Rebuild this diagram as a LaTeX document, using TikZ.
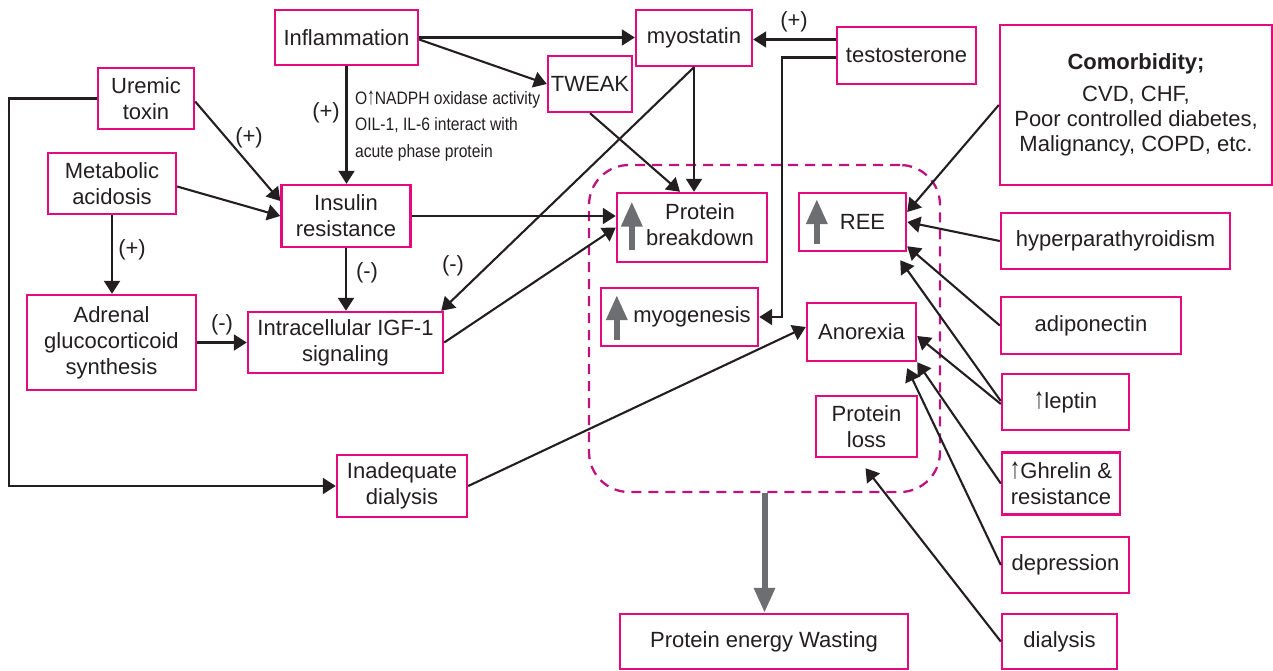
\documentclass[tikz,border=0pt]{standalone}
\usepackage{fontspec}
\setmainfont{Liberation Sans}
\usetikzlibrary{arrows.meta,calc}
\definecolor{pinkb}{HTML}{E5097F}
\definecolor{dashc}{HTML}{BE127E}
\definecolor{ink}{HTML}{231F20}
\definecolor{grayar}{HTML}{6D6E71}
\newcommand\mainfs{\fontsize{22}{26}\selectfont}
\newcommand\uparr{\scalebox{0.95}[1.35]{↑}}
\tikzset{
  box/.style={draw=pinkb, line width=2.4pt, fill=white, inner sep=0pt, align=center, text=ink, font=\mainfs},
  conn/.style={draw=ink, line width=2.1pt, -{Triangle[length=13pt,width=16pt]}},
  lbl/.style={text=ink, font=\mainfs, inner sep=0pt},
  uparrow/.style={draw=grayar, line width=6pt, -{Triangle[length=25pt,width=20pt]}},
  grpbox/.style={draw=dashc, line width=2.3pt, dash pattern=on 10pt off 7pt, rounded corners=40pt, inner sep=0pt},
}
\begin{document}
\begin{tikzpicture}[x=1pt,y=-1pt]
\useasboundingbox (0,0) rectangle (1273,670);
% group
\node[grpbox, minimum width=351pt, minimum height=327pt] (grp) at (764.5,328.5) {};
% boxes
\node[box, minimum width=143pt, minimum height=55pt] (infl) at (346.5,37.5) {Inflammation};
\node[box, minimum width=116pt, minimum height=56pt] (myo) at (694,38) {myostatin};
\node[box, minimum width=84pt, minimum height=56pt] (tweak) at (590,84) {TWEAK};
\node[box, minimum width=139pt, minimum height=57pt] (testo) at (906.5,55.5) {testosterone};
\node[box, minimum width=272pt, minimum height=160pt, font=\fontsize{22}{25}\selectfont] (comor) at (1136,105) {\textbf{Comorbidity;}\\[7pt]CVD, CHF,\\Poor controlled diabetes,\\Malignancy, COPD, etc.};
\node[box, minimum width=96pt, minimum height=61pt] (uremic) at (146,98.5) {Uremic\\toxin};
\node[box, minimum width=128pt, minimum height=61pt] (metab) at (112,183.5) {Metabolic\\acidosis};
\node[box, minimum width=129pt, minimum height=62pt] (insulin) at (346,216) {Insulin\\resistance};
\node[box, minimum width=169pt, minimum height=95pt] (adrenal) at (111.5,342.5) {Adrenal\\glucocorticoid\\synthesis};
\node[box, minimum width=195pt, minimum height=61pt] (igf) at (345.5,342.5) {Intracellular IGF-1\\signaling};
\node[box, minimum width=130pt, minimum height=62pt] (inad) at (402,486) {Inadequate\\dialysis};
\node[box, minimum width=150pt, minimum height=69pt] (pbreak) at (692,227.5) {\hspace*{16pt}\begin{tabular}{@{}c@{}}Protein\\breakdown\end{tabular}};
\node[box, minimum width=107pt, minimum height=58pt] (ree) at (852.5,222) {\hspace*{20pt}REE};
\node[box, minimum width=157pt, minimum height=58pt] (myog) at (679.5,317) {\hspace*{25pt}myogenesis};
\node[box, minimum width=109pt, minimum height=58pt] (anor) at (861.5,332) {Anorexia};
\node[box, minimum width=101pt, minimum height=61pt] (ploss) at (866.5,426.5) {Protein\\loss};
\node[box, minimum width=229pt, minimum height=56pt] (hyper) at (1115.5,241) {hyperparathyroidism};
\node[box, minimum width=180pt, minimum height=57pt] (adipo) at (1091,325.5) {adiponectin};
\node[box, minimum width=127pt, minimum height=56pt] (leptin) at (1065.5,402) {\uparr leptin};
\node[box, minimum width=118pt, minimum height=62pt] (ghrelin) at (1061,483.5) {\uparr Ghrelin \&\\resistance};
\node[box, minimum width=127pt, minimum height=56pt] (depr) at (1065.5,565) {depression};
\node[box, minimum width=115pt, minimum height=55pt] (dial) at (1059.5,641.5) {dialysis};
\node[box, minimum width=288pt, minimum height=55pt] (pew) at (764,641.5) {Protein energy Wasting};
% gray up arrows in boxes
\draw[uparrow] ($(pbreak.west)+(16,22)$) -- ($(pbreak.west)+(16,-26)$);
\draw[uparrow] ($(ree.west)+(19,22)$) -- ($(ree.west)+(19,-23)$);
\draw[uparrow] ($(myog.west)+(17,23)$) -- ($(myog.west)+(17,-22)$);
% annotation
\node[anchor=west, xscale=0.87, align=left, text=ink, inner sep=0pt, font=\fontsize{18}{26.5}\selectfont] (annot) at (355,126) {O\uparr NADPH oxidase activity\\OIL-1, IL-6 interact with\\acute phase protein};
% labels
\node[lbl] (l1) at (326,113) {(+)};
\node[lbl] (l2) at (249,138) {(+)};
\node[lbl] (l3) at (132,250) {(+)};
\node[lbl] (l4) at (367,273) {(-)};
\node[lbl] (l5) at (222,325) {(-)};
\node[lbl] (l6) at (453,266) {(-)};
\node[lbl] (l7) at (794,22) {(+)};
% connectors
\draw[conn] (infl.east) -- (infl.east -| myo.west);
\draw[conn] ($(infl.east)+(0,2)$) -- (tweak.west);
\draw[conn] (infl.south) -- (infl.south |- insulin.north);
\draw[conn] ($(uremic.east)+(0,3)$) -- ($(insulin.west)+(0,-15)$);
\draw[conn] (uremic.west) -- ++(-88,0) |- (inad.west);
\draw[conn] ($(metab.east)+(0,3)$) -- (insulin.west);
\draw[conn] (metab.south) -- (metab.south |- adrenal.north);
\draw[conn] (insulin.south) -- (insulin.south |- igf.north);
\draw[conn] (adrenal.east) -- (igf.west);
\draw[conn] (myo.south) -- ($(igf.north east)+(-3,0)$);
\draw[conn] (myo.south) -- (myo.south |- pbreak.north);
\draw[conn] (tweak.south) -- ($(pbreak.north)+(-12,0)$);
\draw[conn] (insulin.east) -- (insulin.east -| pbreak.west);
\draw[conn] (igf.east) -- (pbreak.west);
\coordinate (t1) at ($(testo.west)+(0,-16)$);
\draw[conn] (t1) -- (t1 -| myo.east);
\draw[conn] ($(testo.west)+(0,2)$) -- ++(-54,0) |- (myog.east);
\draw[conn] (inad.east) -- ($(anor.west)+(0,-5)$);
\draw[conn] (comor.west) -- ($(ree.east)+(0,-10)$);
\draw[conn] (hyper.west) -- (ree.east);
\draw[conn] (adipo.west) -- ($(ree.south east)+(0,-6)$);
\draw[conn] ($(leptin.west)+(0,-1)$) -- ($(ree.south east)+(-7,8)$);
\draw[conn] ($(leptin.west)+(0,2)$) -- ($(anor.east)+(0,4)$);
\draw[conn] (ghrelin.west) -- (anor.south east);
\draw[conn] (depr.west) -- ($(anor.south east)+(-10,6)$);
\draw[conn] (dial.west) -- ($(ploss.south)+(-1,10)$);
\draw[uparrow] (grp.south) -- (grp.south |- pew.north);
\end{tikzpicture}
\end{document}
